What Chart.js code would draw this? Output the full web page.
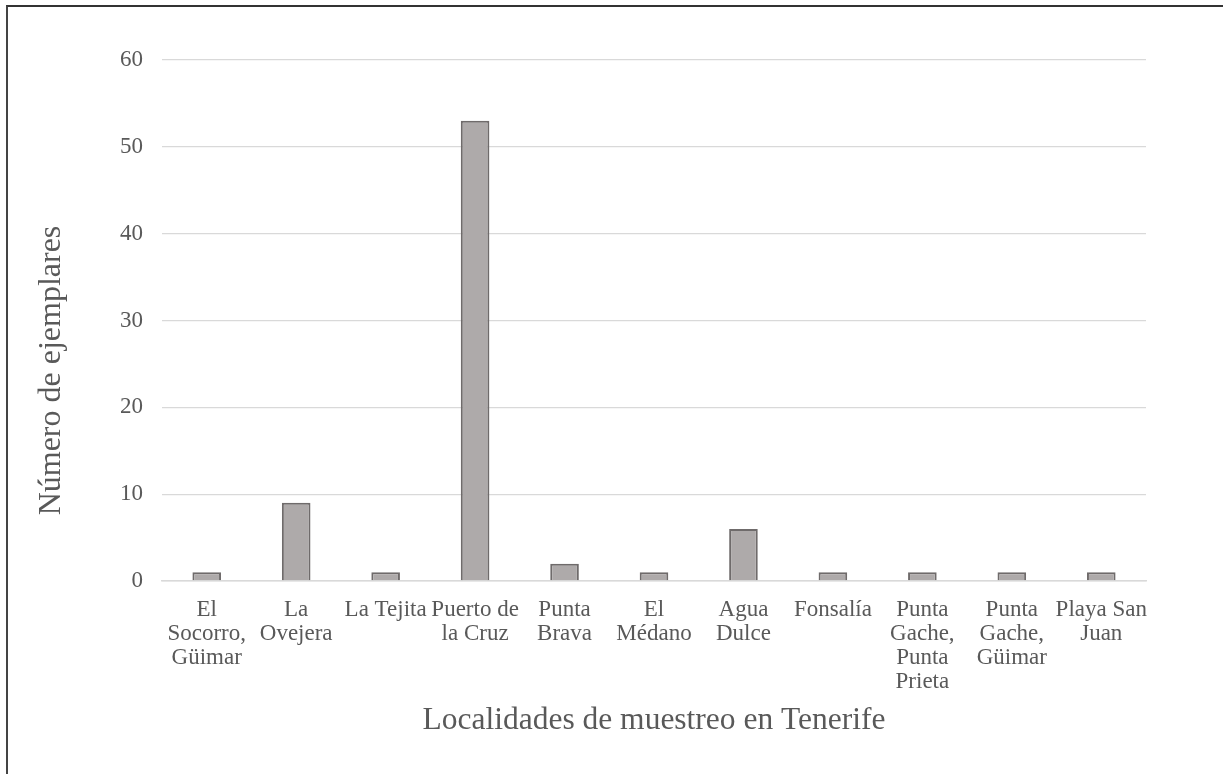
<!DOCTYPE html>
<html>
<head>
<meta charset="utf-8">
<script src="https://cdn.jsdelivr.net/npm/chart.js@4"></script>
<style>
  body { margin: 0; background: #fff; }
  #marco {
    position: absolute; left: 6px; top: 5px;
    width: 1215px; height: 767px;
    border-top: 2px solid #333; border-left: 2px solid #444;
  }
  canvas { display: block; }
</style>
</head>
<body>
<div id="marco"><canvas id="grafico" width="1215" height="767"></canvas></div>
<script>
// Localidades y número de ejemplares recogidos en cada una
var localidades = [
    ['El', 'Socorro,', 'Güimar'],
    ['La', 'Ovejera'],
    'La Tejita',
    ['Puerto de', 'la Cruz'],
    ['Punta', 'Brava'],
    ['El', 'Médano'],
    ['Agua', 'Dulce'],
    'Fonsalía',
    ['Punta', 'Gache,', 'Punta', 'Prieta'],
    ['Punta', 'Gache,', 'Güimar'],
    ['Playa San', 'Juan']
];
var ejemplares = [1, 9, 1, 53, 2, 1, 6, 1, 1, 1, 1];
var marcasY = [0, 10, 20, 30, 40, 50, 60];
var tituloY = 'Número de ejemplares';
var tituloX = 'Localidades de muestreo en Tenerife';

var fuente = "'Liberation Serif', 'Times New Roman', serif";
var gris = '#595959';

// Título del eje vertical, centrado sobre la zona de gráfico más las etiquetas
var tituloEjeY = {
    id: 'tituloEjeY',
    afterDraw: function (chart) {
        var c = chart.ctx;
        var ejeY = chart.scales.y;
        var ejeX = chart.scales.x;
        var cy = (ejeY.top + ejeX.top + 100) / 2;
        c.save();
        c.translate(44, cy);
        c.rotate(-Math.PI / 2);
        c.fillStyle = gris;
        c.font = '32px ' + fuente;
        c.textAlign = 'center';
        c.textBaseline = 'middle';
        c.fillText(tituloY, 0, 0);
        c.restore();
    }
};

var ctx = document.getElementById('grafico').getContext('2d');
var grafico = new Chart(ctx, {
    type: 'bar',
    data: {
        labels: localidades,
        datasets: [{
            data: ejemplares,
            backgroundColor: '#aeaaaa',
            borderColor: '#6f6b6b',
            borderWidth: 2,
            barPercentage: 0.32,
            categoryPercentage: 1
        }]
    },
    options: {
        responsive: false,
        animation: false,
        layout: { padding: { top: 53, right: 77, bottom: 34, left: 25 } },
        plugins: { legend: { display: false }, tooltip: { enabled: false } },
        scales: {
            x: {
                grid: { display: false },
                border: { color: '#d9d9d9', width: 1.5 },
                ticks: {
                    autoSkip: false, maxRotation: 0, padding: 9,
                    color: gris, font: { family: fuente, size: 23, lineHeight: 1.04 }
                },
                title: {
                    display: true, text: tituloX,
                    color: gris, padding: 0,
                    font: { family: fuente, size: 31.5 }
                },
                afterFit: function (eje) { eje.height = 159; }
            },
            y: {
                min: 0, max: 60,
                afterBuildTicks: function (eje) {
                    eje.ticks = marcasY.map(function (v) { return { value: v }; });
                },
                grid: { color: '#d9d9d9', lineWidth: 1.3, drawTicks: false },
                border: { display: false },
                ticks: {
                    padding: 19, color: gris,
                    font: { family: fuente, size: 23 }
                },
                afterFit: function (eje) { eje.width = 129; }
            }
        }
    },
    plugins: [tituloEjeY]
});
</script>
</body>
</html>
